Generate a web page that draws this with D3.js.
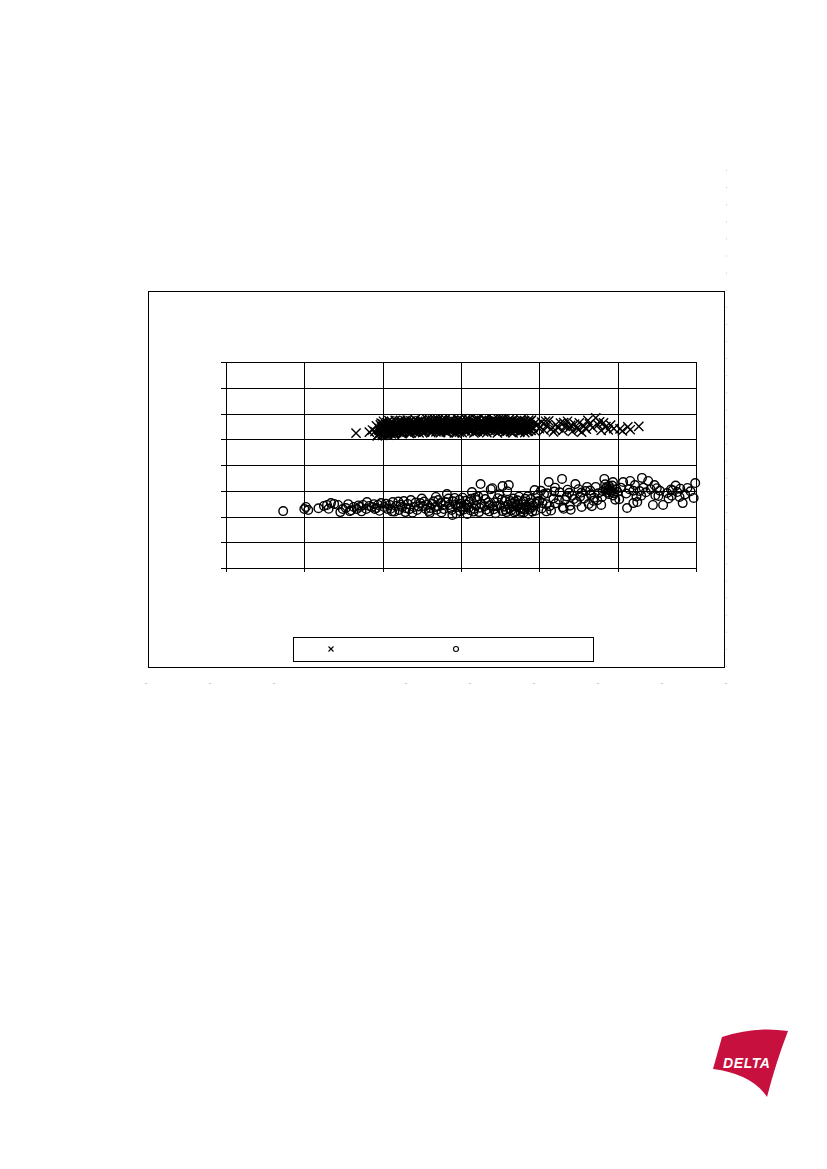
<!DOCTYPE html>
<html><head><meta charset="utf-8">
<script src="https://cdn.jsdelivr.net/npm/d3@7"></script>
<style>body{margin:0;background:#fff}svg{display:block}</style>
</head><body>
<svg id="c" width="827" height="1169"></svg>
<script>
// x ticks and y ticks (no labels are printed in the reference)
const xTicks = [0, 10, 20, 30, 40, 50, 60];
const yTicks = [0, 10, 20, 30, 40, 50, 60, 70, 80];

// Series 1 (crosses): [x, y]
const seriesCross = [
[16.6,52.4],[18.3,52.8],[18.7,53.6],[19.3,51.3],[20.0,51.5],[20.7,51.6],[21.5,51.8],
[19.0,53.0],[19.2,55.2],[19.4,51.8],[19.6,54.1],[19.8,52.6],[20.0,56.0],[20.1,53.7],[20.3,51.9],[20.5,54.8],[20.6,52.9],
[20.8,55.9],[21.0,53.4],[21.1,52.1],[21.3,56.4],[21.5,54.2],[21.6,52.4],[21.8,55.1],[22.0,53.0],[22.1,57.0],[22.3,54.6],
[22.5,52.2],[22.6,55.7],[22.8,53.5],[23.0,56.5],[23.1,54.0],[23.3,52.7],[23.5,55.3],[23.6,57.1],[23.8,53.8],[24.0,55.9],
[24.1,52.9],[24.3,54.7],[24.5,56.8],[24.6,53.3],[24.8,55.4],[25.0,57.3],[25.1,54.1],[25.3,52.8],[25.5,56.2],[25.6,54.9],
[25.8,53.6],[26.0,57.6],[26.1,55.5],[26.3,53.1],[26.5,56.7],[26.6,54.4],[26.8,52.9],[27.0,55.8],[27.1,57.4],[27.3,54.0],
[27.5,56.3],[27.6,53.4],[27.8,55.1],[28.0,57.8],[28.1,54.6],[28.3,52.7],[28.5,56.0],[28.6,54.9],[28.8,53.5],[29.0,57.2],
[29.1,55.6],[29.3,53.9],[29.5,56.6],[29.6,54.3],[29.8,52.8],[30.0,55.9],[30.1,57.5],[30.3,54.5],[30.5,53.2],[30.6,56.4],
[30.8,55.0],[31.0,57.7],[31.1,53.7],[31.3,55.8],[31.5,54.2],[31.6,56.9],[31.8,52.9],[32.0,55.3],[32.1,57.1],[32.3,54.0],
[32.5,56.2],[32.6,53.5],[32.8,55.6],[33.0,57.8],[33.1,54.7],[33.3,52.6],[33.5,56.5],[33.6,55.1],[33.8,53.8],[34.0,57.3],
[34.1,55.4],[34.3,53.2],[34.5,56.0],[34.6,54.5],[34.8,57.6],[35.0,55.2],[35.1,53.6],[35.3,56.7],[35.5,54.1],[35.6,52.8],
[35.8,55.7],[36.0,57.0],[36.1,54.3],[36.3,53.0],[36.5,56.1],[36.6,54.8],[36.8,55.9],[37.0,53.4],[37.1,57.2],[37.3,55.0],
[37.5,52.7],[37.6,54.6],[37.8,56.4],[38.0,53.9],[38.1,55.5],[38.3,54.2],[38.5,56.8],[38.6,53.1],[38.8,55.3],
[20.2,54.5],[20.9,52.4],[21.4,55.0],[21.9,53.9],[22.4,56.0],[22.9,54.3],[23.4,52.3],[23.9,56.2],[24.4,53.7],[24.9,55.9],
[25.4,53.0],[25.9,56.0],[26.4,54.0],[26.9,56.9],[27.4,52.6],[27.9,54.3],[28.4,56.6],[28.9,55.0],[29.4,52.5],[29.9,54.9],
[30.4,56.9],[30.9,53.8],[31.4,55.5],[31.9,57.6],[32.4,54.8],[32.9,52.9],[33.4,55.7],[33.9,56.3],[34.4,54.6],[34.9,53.1],
[35.4,57.7],[35.9,55.3],[36.4,52.9],[36.9,56.8],[37.4,54.1],
[19.7,55.6],[20.15,52.4],[20.65,55.5],[21.15,56.9],[21.65,53.3],[22.15,55.6],[22.65,52.7],[23.15,57.4],[23.65,54.9],[24.15,57.6],
[24.65,52.5],[25.15,56.6],[25.65,57.7],[26.15,52.6],[26.65,57.7],[27.15,53.0],[27.65,57.8],[28.15,55.9],[28.65,57.5],[29.15,52.5],
[29.65,57.8],[30.15,52.6],[30.65,57.8],[31.15,56.3],[31.65,52.5],[32.15,57.8],[32.65,56.8],[33.15,57.6],[33.65,53.4],[34.15,57.8],
[34.65,52.5],[35.15,57.7],[35.65,56.3],[36.15,57.6],[36.65,52.5],[37.15,53.8],[37.65,57.6],[38.15,52.6],[38.65,57.4],
[19.85,54.7],[20.35,55.8],[20.85,54.0],[21.35,53.1],[21.85,56.6],[22.35,53.9],[22.85,57.2],[23.35,55.8],[23.85,53.2],[24.35,55.6],
[24.85,54.2],[25.35,55.1],[25.85,55.2],[26.35,57.4],[26.85,54.9],[27.35,55.5],[27.85,53.2],[28.35,54.2],[28.85,56.4],[29.35,55.3],
[29.85,53.6],[30.35,55.3],[30.85,54.3],[31.35,53.2],[31.85,55.0],[32.35,56.0],[32.85,54.2],[33.35,54.1],[33.85,57.0],[34.35,55.9],
[34.85,55.5],[35.35,54.7],[35.85,56.8],[36.35,55.6],[36.85,54.3],[37.35,56.3],[37.85,55.2],[38.35,53.3],[38.85,57.0],
[19.55,53.4],[20.05,55.0],[20.55,56.5],[21.05,54.6],[21.55,55.8],[22.05,54.0],[22.55,56.5],[23.05,53.0],[23.55,54.5],[24.05,54.4],
[24.55,55.0],[25.05,53.6],[25.55,53.9],[26.05,54.7],[26.55,55.2],[27.05,56.2],[27.55,57.1],[28.05,53.8],[28.55,55.4],[29.05,54.1],
[29.55,57.4],[30.05,54.2],[30.55,54.8],[31.05,55.1],[31.55,57.2],[32.05,53.0],[32.55,55.5],[33.05,56.0],[33.55,54.4],[34.05,54.8],
[34.55,57.0],[35.05,56.2],[35.55,55.4],[36.05,53.5],[36.55,57.3],[37.05,55.6],[37.55,57.0],[38.05,54.6],[38.55,55.0],
[19.6,52.3],[20.1,57.0],[20.6,53.6],[21.1,55.3],[21.6,57.3],[22.1,52.8],[22.6,54.1],[23.1,55.6],[23.6,52.5],[24.1,56.4],
[24.6,55.5],[25.1,52.6],[25.6,55.6],[26.1,54.0],[26.6,53.6],[27.1,54.6],[27.6,55.9],[28.1,52.9],[28.6,56.9],[29.1,54.6],
[29.6,53.2],[30.1,56.3],[30.6,53.4],[31.1,54.6],[31.6,55.4],[32.1,53.7],[32.6,57.3],[33.1,53.3],[33.6,56.9],[34.1,53.9],
[34.6,55.8],[35.1,54.1],[35.6,57.4],[36.1,55.9],[36.6,53.9],[37.1,54.5],[37.6,55.8],[38.1,57.1],[38.6,54.4],
[19.8,56.3],[20.3,53.3],[20.8,57.2],[21.3,54.3],[21.8,52.6],[22.3,57.3],[22.8,55.0],[23.3,56.6],[23.8,54.8],[24.3,53.0],
[24.8,57.1],[25.3,54.3],[25.8,56.9],[26.3,55.7],[26.8,57.1],[27.3,53.6],[27.8,56.7],[28.3,55.5],[28.8,54.1],[29.3,56.9],
[29.8,55.7],[30.3,53.9],[30.8,57.2],[31.3,54.7],[31.8,56.1],[32.3,55.2],[32.8,53.2],[33.3,56.9],[33.8,55.4],[34.3,57.2],
[34.8,54.0],[35.3,55.5],[35.8,53.3],[36.3,57.0],[36.8,53.4],[37.3,56.9],[37.8,53.6],[38.3,56.4],[38.8,53.7],
[19.95,52.0],[20.45,53.9],[20.95,56.2],[21.45,52.5],[21.95,55.2],[22.45,53.4],[22.95,56.1],[23.45,53.9],[23.95,55.0],[24.45,57.0],
[24.95,53.5],[25.45,55.8],[25.95,53.8],[26.45,56.1],[26.95,55.0],[27.45,57.2],[27.95,56.1],[28.45,53.4],[28.95,55.7],[29.45,54.8],
[29.95,57.0],[30.45,55.6],[30.95,56.5],[31.45,53.9],[31.95,54.4],[32.45,56.6],[32.95,55.8],[33.45,53.6],[33.95,54.9],[34.45,56.7],
[34.95,56.6],[35.45,53.7],[35.95,54.2],[36.45,56.5],[36.95,55.4],[37.45,53.2],[37.95,56.8],[38.45,54.1],[38.95,53.4],
[39.0,57.4],[39.2,54.6],[39.5,53.0],[39.8,55.8],[40.0,54.1],[40.3,56.7],[40.6,53.5],[40.9,55.2],[41.2,57.1],[41.5,54.0],
[41.8,52.9],[42.1,55.7],[42.4,54.4],[42.7,56.3],[43.0,53.3],[43.3,55.0],[43.6,57.0],[43.9,54.6],[44.2,53.0],[44.5,55.9],
[44.8,54.2],[45.1,56.4],[45.4,52.8],[45.7,55.1],[46.0,53.9],[46.4,56.0],[46.8,54.5],[47.2,58.3],[47.5,55.6],[47.9,53.4],
[48.2,56.4],[48.5,54.9],[48.8,53.6],[49.1,55.5],[49.5,54.1],[50.3,54.0],[50.6,53.2],[51.3,54.8],[51.6,53.7],[52.7,55.0],
[39.4,56.2],[40.8,57.0],[42.0,53.6],[43.1,56.5],[44.0,55.4],[45.0,53.7],[46.2,57.3],[47.7,56.8]
];

// Series 2 (circles): [x, y]
const seriesCircle = [
[7.3,22.1],[10.0,22.9],[10.2,23.7],[10.5,22.5],[12.5,24.1],[12.9,24.5],[13.4,25.2],[13.8,24.9],[14.3,24.5],[14.6,21.7],
[14.9,22.9],[15.3,23.3],[15.8,22.1],[16.3,23.7],[16.7,22.9],[17.1,23.7],[17.5,24.5],[17.9,22.9],[18.3,24.1],[18.6,23.7],
[19.0,22.9],[19.4,24.5],[19.8,25.2],[16.0,22.4],[18.9,24.8],[19.6,22.2],[17.3,22.0],
[20.2,23.7],[20.6,22.9],[20.9,24.5],[21.3,25.6],[21.7,24.1],[22.1,22.5],[22.5,23.7],[22.9,21.7],[23.2,24.9],[23.6,26.4],
[24.0,23.7],[24.4,22.5],[24.8,25.2],[25.1,24.1],[25.5,22.9],[25.9,22.1],[26.3,24.9],[26.7,23.7],[27.1,26.4],[27.4,25.2],
[27.8,22.9],[28.2,28.7],[28.5,24.5],[28.9,20.6],[29.2,27.2],[29.6,23.7],[29.9,22.1],
[21.0,23.0],[22.0,25.8],[23.0,23.2],[24.2,25.4],[25.0,27.0],[25.7,24.6],[26.0,21.4],[26.5,25.9],[27.0,24.0],[27.5,21.6],
[28.0,25.6],[28.7,23.3],[29.0,25.9],[29.4,21.2],[21.5,21.9],[23.8,21.5],[26.9,22.6],[28.4,27.0],[29.8,26.5],
[30.2,27.3],[30.5,23.6],[30.8,21.0],[31.1,25.8],[31.4,29.5],[31.7,23.0],[32.0,26.4],[32.3,21.7],[32.6,24.8],[32.9,28.2],
[33.2,22.6],[33.5,25.5],[33.8,30.6],[34.1,23.9],[34.4,21.3],[34.7,27.1],[35.0,24.4],[35.3,22.1],[35.6,26.0],[35.9,29.8],
[36.2,23.2],[36.5,25.1],[36.8,21.6],[37.1,24.0],[37.4,27.7],[37.7,22.9],[38.0,25.9],[38.3,23.5],[38.6,21.2],[38.9,26.8],
[39.2,24.3],[39.5,22.2],[39.8,28.4],
[36.4,22.4],[36.6,23.9],[36.9,25.7],[37.0,22.1],[37.2,26.3],[37.5,23.4],[37.6,21.8],[37.8,24.7],[38.1,22.6],[38.2,26.9],
[38.4,24.0],[38.7,22.9],[38.8,25.3],[36.7,27.0],[37.3,24.9],[38.0,21.6],[36.0,24.6],[35.7,22.6],
[32.5,32.6],[35.3,31.8],[36.1,32.2],[34.0,31.0],
[29.9,25.0],[30.3,22.6],[30.7,24.7],[31.0,23.4],[31.3,26.9],[31.6,21.9],[31.9,24.2],[32.2,27.8],[33.0,24.0],[33.6,22.0],
[34.3,25.5],[34.9,28.6],[35.5,23.8],[39.0,23.4],[39.7,25.8],[39.4,30.3],
[40.0,26.0],[40.3,23.1],[40.6,28.7],[40.9,24.8],[41.2,33.4],[41.5,22.3],[41.8,27.0],[42.1,25.1],[42.9,34.6],[42.6,29.4],
[43.0,23.6],[43.3,26.5],[43.6,30.4],[43.9,24.2],[44.2,28.1],[44.6,32.6],[44.8,25.7],[45.4,23.7],[45.4,29.3],[45.7,27.0],
[46.1,31.5],[46.3,24.9],[46.6,28.4],[46.9,26.1],[47.2,31.5],[47.5,29.0],[48.0,27.6],[48.3,34.6],[48.5,30.9],[48.7,29.3],
[48.9,31.8],[49.4,33.4],[49.4,28.2],[49.7,26.5],[40.2,30.0],[41.0,29.0],[42.0,31.2],[43.5,27.8],[45.0,30.6],[46.5,30.1],
[47.0,27.3],[48.1,29.8],[48.8,30.3],[49.0,31.0],[49.2,29.6],[49.3,32.0],[48.9,28.7],[40.9,22.0],[43.1,23.0],[44.0,22.6],
[47.9,24.5],
[50.2,26.7],[50.7,33.4],[51.2,23.3],[51.1,28.9],[51.6,33.8],[52.0,25.2],[52.0,30.0],[52.4,27.8],[52.8,29.9],[53.3,31.2],
[53.1,35.0],[53.9,33.8],[54.8,28.3],[55.0,31.0],[54.5,24.5],[55.8,24.5],[56.3,29.1],[56.8,30.5],[57.6,29.5],[57.9,27.6],
[58.3,25.2],[58.9,31.1],[59.9,33.0],[59.7,27.2],[50.0,29.5],[52.5,25.6],[53.0,28.1],[54.2,30.6],[55.2,28.0],[56.5,27.0],
[57.0,30.2],[58.0,30.8],
[11.8,23.2],[13.1,23.0],[15.6,24.8],[16.9,24.3],[18.0,25.6],[19.2,23.3],[20.4,25.0],[21.2,22.0],[22.3,24.6],[22.7,26.0],
[23.4,22.8],[24.6,23.9],[25.3,25.8],[26.1,23.3],[26.8,27.6],[27.7,24.4],[28.8,22.5],[29.3,24.6],[30.0,23.8],[30.6,26.1],
[31.2,22.4],[31.8,27.3],[32.4,23.4],[33.1,26.8],[33.7,24.4],[34.2,22.8],[34.6,24.0],[35.2,26.6],[35.8,21.7],[36.3,26.0],
[37.9,23.2],[38.5,27.8],[39.1,21.9],[39.6,24.9],[40.4,25.2],[41.3,24.0],[41.9,29.7],[42.5,26.5],[43.8,29.2],[44.4,26.8],
[45.2,27.7],[45.9,29.9],[46.7,24.0],[47.4,26.3],[48.4,32.5],[49.8,30.6],[50.4,31.2],[51.5,30.6],[52.2,32.2],[53.6,29.4],
[54.7,32.2],[55.4,30.0],[56.9,28.1],[57.4,32.0],[58.6,28.6],[59.3,29.8],[49.1,30.1],[48.6,31.4],[49.5,29.0]
];

const svg = d3.select("#c");
const x = d3.scaleLinear().domain([0, 60]).range([226, 696]);
const y = d3.scaleLinear().domain([0, 80]).range([568, 362]);

// outer chart frame
svg.append("rect").attr("x", 148.5).attr("y", 291.5).attr("width", 576).attr("height", 376)
  .attr("fill", "#fff").attr("stroke", "#000").attr("stroke-width", 1);

// faint page dots (right margin and bottom row)
const dotsG = svg.append("g").attr("fill", "#c8c8c8");
for (let yy = 170; yy <= 680; yy += 17.1) dotsG.append("rect").attr("x", 726).attr("y", yy).attr("width", 1).attr("height", 1);
[145, 209, 273, 405, 469, 533, 597, 661, 725].forEach(xx =>
  dotsG.append("rect").attr("x", xx).attr("y", 683).attr("width", 2).attr("height", 1));

// grid
const g = svg.append("g");
g.selectAll("line.h").data(yTicks).join("line")
  .attr("x1", 221).attr("x2", x(60)).attr("y1", d => Math.round(y(d)) + 0.5).attr("y2", d => Math.round(y(d)) + 0.5)
  .attr("stroke", "#000").attr("stroke-width", 1);
g.selectAll("line.v").data(xTicks).join("line")
  .attr("x1", d => Math.round(x(d)) + 0.5).attr("x2", d => Math.round(x(d)) + 0.5)
  .attr("y1", y(80)).attr("y2", 572)
  .attr("stroke", "#000").attr("stroke-width", 1);

// crosses
const h = 4.6;
svg.append("g").selectAll("path").data(seriesCross).join("path")
  .attr("d", d => {
    const cx = x(d[0]), cy = y(d[1]);
    return `M${cx - h},${cy - h}L${cx + h},${cy + h}M${cx - h},${cy + h}L${cx + h},${cy - h}`;
  })
  .attr("stroke", "#000").attr("stroke-width", 1.4).attr("fill", "none");

// circles
svg.append("g").selectAll("circle").data(seriesCircle).join("circle")
  .attr("cx", d => x(d[0])).attr("cy", d => y(d[1])).attr("r", 4.3)
  .attr("fill", "none").attr("stroke", "#000").attr("stroke-width", 1.4);

// legend
svg.append("rect").attr("x", 293.5).attr("y", 637.5).attr("width", 300).attr("height", 24)
  .attr("fill", "#fff").attr("stroke", "#000").attr("stroke-width", 1);
svg.append("path").attr("d", "M328.5,646.5L333.5,651.5M328.5,651.5L333.5,646.5")
  .attr("stroke", "#000").attr("stroke-width", 1.1);
svg.append("circle").attr("cx", 456).attr("cy", 649).attr("r", 2.5)
  .attr("fill", "none").attr("stroke", "#000").attr("stroke-width", 1.1);

// DELTA logo
svg.append("path")
  .attr("d", "M722,1037 Q755,1026 788,1031 Q776,1062 767,1097 Q752,1074 713,1069 Z")
  .attr("fill", "#c8103e");
svg.append("text").attr("x", 723).attr("y", 1068)
  .attr("font-family", "Liberation Sans, Arial, sans-serif").attr("font-weight", "bold")
  .attr("font-style", "italic").attr("font-size", 14).attr("fill", "#fff")
  .attr("letter-spacing", 0.6).text("DELTA");
</script>
</body></html>
